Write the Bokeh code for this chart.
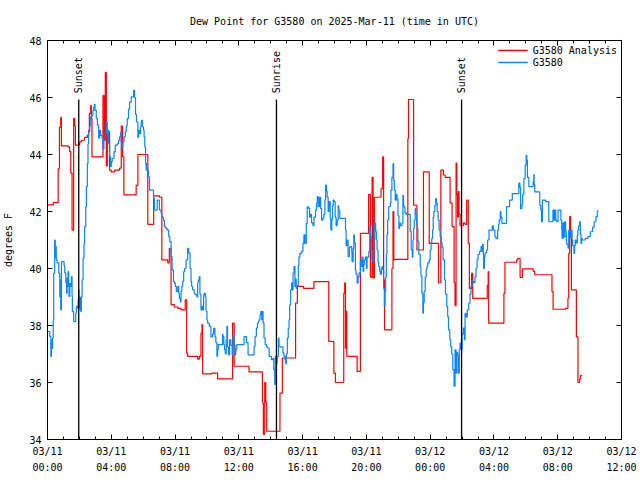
from math import pi
from bokeh.plotting import figure
from bokeh.models import Range1d, LinearAxis, FixedTicker, Legend, LegendItem
from bokeh.core.properties import value
from bokeh.embed import file_html
from bokeh.resources import INLINE

FONT = "DejaVu Sans Mono"

# ---- data (hours since 2025-03-11 00:00 UTC, degrees F) ----
red_h = [0.0, 0.36, 0.67, 0.75, 0.83, 0.875, 1.29, 1.39, 1.46, 1.54,
         1.64, 1.71, 1.75, 2.02, 2.125, 2.33, 2.5, 2.58, 2.625, 2.71,
         2.75, 2.79, 3.48, 3.56, 3.625, 3.69, 3.75, 3.89, 4.0, 4.21,
         4.52, 4.625, 4.71, 4.79, 5.56, 5.67, 6.29, 6.66, 7.02, 7.17,
         7.54, 7.64, 7.75, 7.96, 8.17, 8.375, 8.64, 8.73, 8.79, 9.42,
         9.52, 9.625, 9.69, 9.73, 10.29, 10.67, 11.61, 11.71, 12.64, 13.48,
         13.54, 13.625, 13.69, 13.75, 14.58, 14.73, 15.56, 15.67, 16.06, 16.71,
         17.64, 17.96, 18.06, 18.58, 18.64, 18.69, 18.73, 18.77, 19.42, 19.625,
         20.14, 20.25, 20.36, 20.42, 20.5, 20.92, 21.02, 21.08, 21.14, 21.6,
         21.67, 21.72, 21.77, 22.6, 22.64, 22.96, 23.17, 23.58, 23.94, 24.52,
         24.67, 24.83, 24.94, 25.25, 25.375, 25.5, 25.56, 25.625, 25.67, 25.72,
         25.77, 25.81, 25.875, 26.08, 26.19, 26.29, 26.39, 26.46, 26.6, 26.67,
         27.58, 27.64, 27.67, 28.625, 28.69, 29.42, 29.5, 29.64, 29.79, 30.46,
         30.56, 31.64, 31.71, 32.48, 32.64, 32.69, 32.75, 32.81, 32.86, 33.17,
         33.27, 33.375, 33.42, 33.52]
red_v = [42.23, 42.31, 43.5, 44.96, 45.3, 44.3, 44.27, 44.1, 43.35, 41.35,
         45.27, 45.0, 44.33, 44.44, 44.5, 44.6, 44.67, 44.85, 45.44, 45.72,
         45.27, 43.92, 46.07, 44.5, 46.88, 43.6, 44.8, 43.45, 43.39, 43.45,
         43.52, 45.0, 43.92, 42.58, 42.92, 44.0, 41.55, 42.55, 42.5, 40.3,
         40.2, 40.7, 38.73, 38.65, 38.6, 38.55, 38.9, 37.03, 36.92, 36.82,
         36.92, 37.73, 38.03, 36.3, 36.33, 36.13, 38.08, 36.57, 36.37, 35.28,
         34.18, 36.0, 35.3, 34.29, 35.63, 36.86, 38.78, 39.37, 39.3, 39.54,
         37.44, 36.33, 36.0, 39.13, 39.5, 37.2, 38.5, 36.92, 36.39, 41.23,
         42.6, 39.7, 43.2, 39.67, 42.5, 42.8, 43.92, 39.6, 37.85, 40.0,
         42.0, 40.3, 40.32, 44.56, 45.93, 42.22, 40.65, 43.39, 40.88, 39.5,
         43.45, 43.28, 43.2, 42.3, 41.47, 39.5, 38.7, 43.7, 42.6, 41.8,
         42.7, 41.9, 41.5, 41.6, 41.55, 42.4, 40.88, 39.3, 39.83, 38.95,
         39.4, 39.89, 38.08, 39.13, 40.22, 40.3, 40.36, 39.69, 39.99, 39.9,
         39.78, 39.19, 38.57, 38.6, 38.96, 40.53, 41.82, 41.1, 39.25, 37.6,
         36.0, 36.13, 36.24, 36.24]

blue_h = [0.0, 0.14, 0.21, 0.25, 0.29, 0.32, 0.36, 0.39, 0.45, 0.49,
          0.52, 0.55, 0.6, 0.71, 0.77, 0.81, 0.83, 0.875, 1.04, 1.08,
          1.15, 1.2, 1.23, 1.25, 1.29, 1.33, 1.35, 1.4, 1.46, 1.5,
          1.54, 1.56, 1.64, 1.77, 1.81, 1.88, 1.92, 1.96, 1.98, 2.02,
          2.06, 2.125, 2.17, 2.23, 2.29, 2.33, 2.4, 2.44, 2.5, 2.54,
          2.58, 2.65, 2.71, 2.79, 2.85, 2.9, 2.94, 2.98, 3.06, 3.13,
          3.21, 3.27, 3.33, 3.42, 3.48, 3.54, 3.625, 3.69, 3.75, 3.79,
          3.83, 3.9, 3.96, 4.0, 4.06, 4.17, 4.25, 4.375, 4.46, 4.52,
          4.58, 4.625, 4.67, 4.73, 4.79, 4.875, 4.94, 5.0, 5.08, 5.15,
          5.25, 5.4, 5.46, 5.52, 5.58, 5.67, 5.71, 5.77, 5.83, 5.875,
          5.9, 5.96, 6.02, 6.06, 6.1, 6.15, 6.19, 6.23, 6.27, 6.33,
          6.4, 6.65, 6.71, 6.88, 7.02, 7.125, 7.17, 7.27, 7.33, 7.42,
          7.5, 7.6, 7.67, 7.75, 7.81, 7.9, 7.96, 8.02, 8.08, 8.17,
          8.23, 8.27, 8.33, 8.375, 8.42, 8.48, 8.54, 8.6, 8.69, 8.79,
          8.85, 8.94, 9.0, 9.04, 9.1, 9.2, 9.25, 9.375, 9.42, 9.46,
          9.52, 9.56, 9.625, 9.69, 9.73, 9.79, 9.83, 9.9, 9.94, 10.0,
          10.04, 10.15, 10.25, 10.35, 10.42, 10.5, 10.56, 10.625, 10.67, 10.71,
          10.98, 11.0, 11.06, 11.1, 11.15, 11.21, 11.25, 11.29, 11.35, 11.42,
          11.5, 11.58, 11.63, 11.71, 11.77, 11.81, 11.875, 12.33, 12.48, 12.58,
          12.96, 13.02, 13.1, 13.17, 13.23, 13.27, 13.33, 13.375, 13.44, 13.48,
          13.52, 13.58, 13.65, 13.73, 13.79, 13.9, 14.04, 14.13, 14.19, 14.25,
          14.29, 14.35, 14.4, 14.48, 14.52, 14.58, 14.77, 14.83, 14.9, 14.94,
          14.98, 15.04, 15.1, 15.15, 15.19, 15.25, 15.31, 15.35, 15.4, 15.46,
          15.52, 15.56, 15.6, 15.65, 15.73, 15.77, 15.83, 15.94, 16.02, 16.08,
          16.15, 16.23, 16.29, 16.35, 16.44, 16.5, 16.56, 16.65, 16.71, 16.81,
          16.88, 16.92, 16.98, 17.06, 17.13, 17.19, 17.27, 17.33, 17.4, 17.44,
          17.5, 17.54, 17.6, 17.65, 17.73, 17.77, 17.83, 17.875, 17.92, 17.98,
          18.04, 18.1, 18.17, 18.23, 18.27, 18.33, 18.69, 18.73, 18.79, 18.85,
          18.94, 19.0, 19.08, 19.1, 19.17, 19.21, 19.25, 19.31, 19.35, 19.42,
          19.48, 19.54, 19.625, 19.67, 19.73, 19.79, 19.83, 19.875, 19.94, 20.0,
          20.04, 20.15, 20.21, 20.25, 20.31, 20.35, 20.42, 20.46, 20.52, 20.58,
          20.625, 20.67, 20.73, 20.77, 20.83, 20.875, 20.94, 20.98, 21.02, 21.08,
          21.125, 21.17, 21.21, 21.25, 21.29, 21.33, 21.4, 21.5, 21.54, 21.6,
          21.67, 21.71, 21.75, 21.81, 21.875, 21.92, 21.98, 22.04, 22.08, 22.125,
          22.23, 22.29, 22.33, 22.375, 22.42, 22.5, 22.75, 22.81, 22.875, 22.92,
          22.96, 23.0, 23.06, 23.1, 23.15, 23.19, 23.23, 23.29, 23.375, 23.42,
          23.48, 23.54, 23.58, 23.625, 23.69, 23.75, 23.79, 23.85, 23.94, 24.0,
          24.06, 24.1, 24.15, 24.19, 24.23, 24.29, 24.35, 24.4, 24.44, 24.5,
          24.56, 24.625, 24.69, 24.75, 24.81, 24.9, 24.96, 25.04, 25.1, 25.15,
          25.23, 25.29, 25.35, 25.42, 25.5, 25.56, 25.625, 25.67, 25.73, 25.77,
          25.83, 25.875, 25.94, 26.0, 26.08, 26.15, 26.19, 26.25, 26.33, 26.42,
          26.5, 26.56, 26.63, 26.73, 26.81, 26.875, 26.94, 27.0, 27.1, 27.19,
          27.25, 27.29, 27.33, 27.35, 27.4, 27.44, 27.54, 27.6, 27.69, 27.9,
          27.96, 28.06, 28.125, 28.23, 28.29, 28.33, 28.4, 28.44, 28.5, 28.79,
          28.98, 29.15, 29.56, 29.625, 29.67, 29.75, 29.8, 29.875, 29.96, 30.02,
          30.06, 30.1, 30.19, 30.46, 30.5, 30.52, 30.56, 30.875, 30.94, 30.98,
          31.04, 31.25, 31.44, 31.7, 31.77, 31.83, 31.875, 31.94, 32.02, 32.2,
          32.25, 32.27, 32.33, 32.4, 32.44, 32.5, 32.54, 32.58, 32.65, 32.69,
          32.75, 32.81, 32.85, 32.9, 32.94, 33.02, 33.06, 33.1, 33.15, 33.23,
          33.27, 33.31, 33.375, 33.42, 33.46, 33.5, 33.54, 33.73, 33.9, 34.04,
          34.19, 34.29, 34.4, 34.48, 34.52]
blue_v = [37.79, 37.62, 36.92, 37.5, 37.2, 37.56, 38.2, 39.83, 41.0, 40.4,
          40.77, 40.3, 40.2, 39.83, 39.0, 39.6, 38.55, 40.24, 40.1, 39.85,
          39.49, 39.13, 39.66, 39.37, 39.89, 39.43, 39.02, 39.47, 39.37, 39.72,
          39.02, 38.49, 38.14, 38.43, 38.67, 38.61, 38.93, 39.25, 38.61, 39.0,
          38.5, 39.0, 39.6, 40.36, 40.88, 41.47, 42.17, 42.87, 43.68, 44.37,
          44.79, 45.0, 45.32, 45.38, 45.55, 45.67, 45.76, 45.55, 45.26, 45.03,
          44.57, 44.85, 44.67, 44.57, 44.2, 44.5, 44.73, 45.14, 44.73, 44.85,
          44.38, 43.92, 43.57, 43.74, 43.86, 44.09, 44.33, 44.38, 44.5, 44.62,
          44.79, 44.44, 44.21, 44.44, 44.62, 44.79, 45.0, 45.26, 45.59, 45.84,
          46.02, 46.25, 46.0, 45.4, 45.14, 44.6, 44.85, 44.73, 44.97, 45.14,
          45.2, 44.97, 44.85, 44.62, 44.26, 43.68, 43.45, 43.68, 43.45, 43.22,
          42.75, 42.46, 42.05, 42.4, 42.05, 41.93, 41.8, 41.7, 41.47, 41.41,
          41.35, 41.12, 40.94, 40.42, 39.95, 39.55, 39.49, 39.37, 39.19, 39.37,
          39.13, 38.95, 38.83, 39.2, 39.37, 39.55, 39.89, 40.0, 40.3, 40.71,
          40.55, 40.0, 39.55, 39.37, 39.25, 39.14, 39.08, 39.0, 39.5, 39.6,
          39.72, 39.1, 38.55, 38.67, 38.55, 39.07, 39.13, 39.0, 38.5, 38.2,
          38.08, 37.97, 37.6, 37.7, 37.9, 37.6, 37.4, 36.92, 37.15, 37.33,
          37.7, 37.61, 37.33, 37.15, 37.0, 37.5, 37.97, 37.25, 36.97, 37.5,
          37.3, 36.97, 37.65, 37.3, 36.97, 37.15, 37.33, 37.61, 37.4, 36.97,
          37.27, 37.62, 37.91, 38.08, 38.14, 38.2, 38.37, 38.49, 38.2, 38.49,
          38.08, 37.56, 37.33, 37.27, 37.21, 36.92, 36.8, 36.85, 36.45, 35.93,
          36.92, 36.65, 36.92, 37.56, 37.27, 37.25, 37.03, 36.92, 36.8, 36.65,
          37.0, 37.56, 37.9, 38.2, 38.72, 39.25, 39.5, 39.25, 39.83, 40.07,
          39.37, 39.63, 39.3, 39.4, 40.1, 40.4, 40.53, 40.6, 40.88, 41.18,
          40.88, 41.58, 42.17, 42.12, 41.8, 41.9, 41.6, 41.5, 41.8, 42.05,
          42.3, 42.52, 42.17, 42.5, 42.1, 41.7, 41.76, 41.9, 42.4, 42.93,
          42.7, 42.5, 42.0, 42.35, 41.76, 41.35, 41.7, 42.2, 42.4, 42.35,
          41.8, 41.5, 41.7, 42.2, 42.05, 41.76, 41.35, 40.8, 41.0, 40.42,
          40.75, 40.77, 40.6, 40.24, 40.7, 41.18, 40.9, 39.95, 39.8, 39.49,
          39.7, 39.85, 40.3, 40.07, 40.4, 39.9, 40.12, 40.3, 40.4, 40.0,
          40.4, 40.6, 41.47, 41.12, 40.65, 40.3, 40.24, 41.0, 41.6, 41.3,
          41.0, 40.65, 40.25, 40.07, 39.9, 39.8, 40.0, 40.07, 39.95, 39.3,
          38.67, 39.2, 39.7, 40.5, 41.18, 41.7, 42.17, 42.3, 42.75, 43.2,
          43.68, 43.1, 42.75, 42.4, 42.6, 42.45, 41.85, 41.4, 41.6, 41.5,
          41.6, 42.57, 42.2, 42.15, 41.95, 41.9, 41.3, 40.65, 40.4, 41.0,
          41.4, 41.7, 42.1, 41.9, 41.6, 41.4, 40.95, 40.5, 40.07, 39.75,
          39.13, 38.43, 38.8, 39.2, 39.7, 39.95, 40.07, 40.2, 40.3, 40.65,
          40.9, 41.05, 41.35, 41.8, 42.0, 42.2, 42.45, 42.3, 42.0, 41.7,
          41.35, 41.12, 40.9, 40.75, 40.3, 39.6, 39.1, 38.67, 38.3, 37.85,
          37.5, 37.26, 37.0, 36.45, 35.87, 37.15, 36.33, 37.05, 36.95, 36.33,
          37.15, 37.38, 37.15, 37.7, 37.91, 37.5, 38.43, 38.3, 38.55, 38.78,
          39.1, 39.37, 39.55, 39.5, 39.7, 40.0, 40.3, 40.5, 40.6, 40.77,
          40.6, 40.85, 40.5, 40.0, 40.4, 40.55, 40.65, 41.0, 41.35, 41.5,
          41.35, 41.12, 41.05, 41.35, 41.55, 41.7, 42.0, 41.8, 41.58, 42.17,
          42.4, 42.63, 43.0, 42.85, 42.1, 42.25, 42.6, 43.16, 43.63, 43.97,
          43.8, 43.2, 42.87, 43.04, 43.3, 42.95, 42.69, 42.22, 42.05, 41.64,
          42.4, 42.35, 41.64, 42.05, 41.7, 42.05, 41.7, 41.64, 42.05, 41.7,
          41.35, 41.06, 41.6, 41.1, 41.64, 41.3, 40.9, 40.83, 40.71, 41.35,
          41.3, 41.1, 41.35, 41.0, 40.8, 40.53, 40.8, 41.0, 40.9, 41.17,
          41.35, 41.5, 41.64, 41.2, 40.88, 41.05, 41.0, 41.06, 41.12, 41.29,
          41.45, 41.64, 41.82, 42.0, 42.05]

event_h = [1.96, 14.36, 25.97]
event_labels = ["Sunset", "Sunrise", "Sunset"]
event_top = 45.93

x_major = [0, 4, 8, 12, 16, 20, 24, 28, 32, 36]
x_minor = list(range(0, 37))
x_labels = ["03/11\n00:00", "03/11\n04:00", "03/11\n08:00", "03/11\n12:00",
            "03/11\n16:00", "03/11\n20:00", "03/12\n00:00", "03/12\n04:00",
            "03/12\n08:00", "03/12\n12:00"]
y_major = [34, 36, 38, 40, 42, 44, 46, 48]

RED = "#ff0000"
BLUE = "#0a84ff"

# ---- figure ----
p = figure(width=639, height=479, output_backend="svg", toolbar_location=None,
           x_range=Range1d(0, 36), y_range=Range1d(34, 48),
           x_axis_type=None, y_axis_type=None,
           min_border_left=45, min_border_right=18,
           min_border_top=39, min_border_bottom=40)
p.outline_line_color = "black"
p.outline_line_width = 1
p.background_fill_color = "white"
p.border_fill_color = "white"

p.title.text = "Dew Point for G3580 on 2025-Mar-11 (time in UTC)"
p.title.align = "center"
p.title.text_font = FONT
p.title.text_font_size = "10px"
p.title.text_font_style = "normal"
p.title.text_color = "black"
p.title.standoff = 27


def style_axis(ax, labels=True):
    ax.axis_line_color = "black"
    ax.major_tick_line_color = "black"
    ax.minor_tick_line_color = "black"
    ax.major_tick_in = 5
    ax.major_tick_out = 0
    ax.minor_tick_in = 3
    ax.minor_tick_out = 0
    ax.major_label_text_font = FONT
    if labels:
        ax.major_label_text_color = "black"
        ax.major_label_text_font_size = "10px"
        ax.major_label_standoff = 6
    else:
        ax.major_label_text_color = None
        ax.major_label_text_font_size = "0px"
        ax.major_label_standoff = 0


xb = LinearAxis(ticker=FixedTicker(ticks=x_major, minor_ticks=x_minor))
style_axis(xb)
xb.major_label_overrides = {t: lab for t, lab in zip(x_major, x_labels)}
xb.major_label_text_line_height = 1.5
p.add_layout(xb, "below")

xt = LinearAxis(ticker=FixedTicker(ticks=x_major, minor_ticks=x_minor))
style_axis(xt, labels=False)
p.add_layout(xt, "above")

yl = LinearAxis(ticker=FixedTicker(ticks=y_major, minor_ticks=[]))
style_axis(yl)
yl.axis_label = "degrees F"
yl.axis_label_text_font = FONT
yl.axis_label_text_font_size = "10px"
yl.axis_label_text_font_style = "normal"
yl.axis_label_text_color = "black"
yl.axis_label_standoff = 12
p.add_layout(yl, "left")

yr = LinearAxis(ticker=FixedTicker(ticks=y_major, minor_ticks=[]))
style_axis(yr, labels=False)
p.add_layout(yr, "right")

p.step(red_h, red_v, mode="after", line_color=RED, line_width=1.2)
p.step(blue_h, blue_v, mode="after", line_color=BLUE, line_width=1.2)

# legend proxies: one invisible (NaN) point each, so the legend shows straight samples
leg_red = p.line(x=[0.0], y=[float("nan")], line_color=RED, line_width=1.5)
leg_blue = p.line(x=[0.0], y=[float("nan")], line_color=BLUE, line_width=1.5)

p.segment(x0=event_h, y0=[34] * len(event_h), x1=event_h, y1=[event_top] * len(event_h),
          line_color="black", line_width=1.3)
p.text(x=event_h, y=[event_top + 0.22] * len(event_h), text=event_labels, angle=pi / 2,
       text_align="left", text_baseline="middle", text_font=value(FONT),
       text_font_size="10px", text_color="black")

legend = Legend(items=[LegendItem(label="G3580 Analysis", renderers=[leg_red]),
                       LegendItem(label="G3580", renderers=[leg_blue])],
                location="top_right")
legend.border_line_color = None
legend.background_fill_alpha = 0
legend.label_text_font = FONT
legend.label_text_font_size = "10px"
legend.label_text_color = "black"
legend.glyph_width = 30
legend.glyph_height = 12
legend.label_height = 12
legend.spacing = 0
legend.padding = 2
legend.margin = 4
p.add_layout(legend)

open("out.html", "w").write(file_html(p, INLINE))
